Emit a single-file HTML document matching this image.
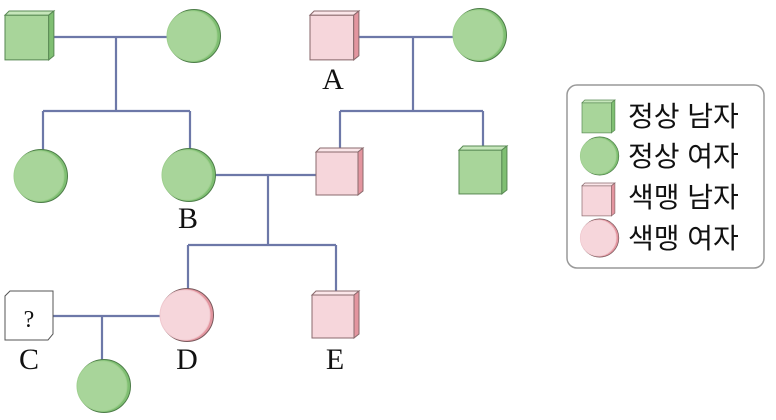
<!DOCTYPE html>
<html><head><meta charset="utf-8"><style>
html,body{margin:0;padding:0;background:#fff;}
svg{display:block}
text{font-family:"Liberation Serif",serif;fill:#111}
.k{font-family:"Liberation Sans","Noto Sans CJK KR",sans-serif;font-size:28px}
</style></head><body>
<svg width="776" height="420" viewBox="0 0 776 420">
<defs>
<g id="gsq"><rect x="0" y="4" width="42" height="43" fill="#a8d59a" stroke="#5a8a55" stroke-width="1"/><polygon points="0,4 4,0 47,0 42,4" fill="#c6e6bb" stroke="#5a8a55" stroke-width="1"/><polygon points="42,4 47,0 47,43 42,47" fill="#7fbf72" stroke="#5a8a55" stroke-width="1"/></g>
<g id="psq"><rect x="0" y="4" width="42" height="43" fill="#f6d6db" stroke="#8a6a6d" stroke-width="1"/><polygon points="0,4 4,0 47,0 42,4" fill="#fbe6e9" stroke="#8a6a6d" stroke-width="1"/><polygon points="42,4 47,0 47,43 42,47" fill="#e3959f" stroke="#8a6a6d" stroke-width="1"/></g>
<g id="gci"><circle cx="1" cy="0" r="26.5" fill="#7fbf72" stroke="#4d7d48"/><circle cx="-1" cy="0" r="25" fill="#a8d59a" stroke="#9fd08f"/></g>
<g id="pci"><circle cx="1" cy="0" r="26.5" fill="#e3959f" stroke="#7a5a5d"/><circle cx="-1" cy="0" r="25" fill="#f6d6db" stroke="#f0c9cf"/></g>
</defs>
<g stroke="#6d78a8" stroke-width="2.2" fill="none">
<path d="M52 37H168M116 37V111M43 111H190M43 111V152M190 111V152"/>
<path d="M358 37H455M413 37V111M340 111H483M340 111V150M483 111V148"/>
<path d="M212 175H316M268 175V245M188 245H336M188 245V290M336 245V292"/>
<path d="M53 316H162M102 316V360"/>
</g>
<g transform="translate(5,11) scale(1.04)"><use href="#gsq"/></g>
<use href="#gci" x="193" y="36"/>
<g transform="translate(310,11) scale(1.04)"><use href="#psq"/></g>
<use href="#gci" x="479" y="35"/>
<use href="#gci" x="40" y="176"/>
<use href="#gci" x="188" y="175"/>
<g transform="translate(316,148) scale(1.0)"><use href="#psq"/></g>
<g transform="translate(459,146) scale(1.02)"><use href="#gsq"/></g>
<use href="#pci" x="186" y="315"/>
<g transform="translate(312,291) scale(1.0)"><use href="#psq"/></g>
<polygon points="10,291 53,291 53,334 48,340 5,340 5,296" fill="#fff" stroke="#555" stroke-width="1"/>
<text x="29" y="327" font-size="24" text-anchor="middle">?</text>
<use href="#gci" x="103" y="386"/>
<text x="333" y="89" font-size="30" text-anchor="middle">A</text>
<text x="188" y="228" font-size="30" text-anchor="middle">B</text>
<text x="29" y="369" font-size="30" text-anchor="middle">C</text>
<text x="187" y="369" font-size="30" text-anchor="middle">D</text>
<text x="335" y="369" font-size="30" text-anchor="middle">E</text>
<rect x="567" y="85" width="197" height="183" rx="10" fill="#fff" stroke="#999" stroke-width="1.5"/>
<g transform="translate(582,100) scale(0.7)"><use href="#gsq"/></g>
<g transform="translate(599,156) scale(0.72)"><use href="#gci"/></g>
<g transform="translate(582,183) scale(0.7)"><use href="#psq"/></g>
<g transform="translate(599,238) scale(0.72)"><use href="#pci"/></g>
<text class="k" x="628" y="126">정상 남자</text>
<text class="k" x="628" y="166">정상 여자</text>
<text class="k" x="628" y="207">색맹 남자</text>
<text class="k" x="628" y="248">색맹 여자</text>
</svg>
</body></html>
